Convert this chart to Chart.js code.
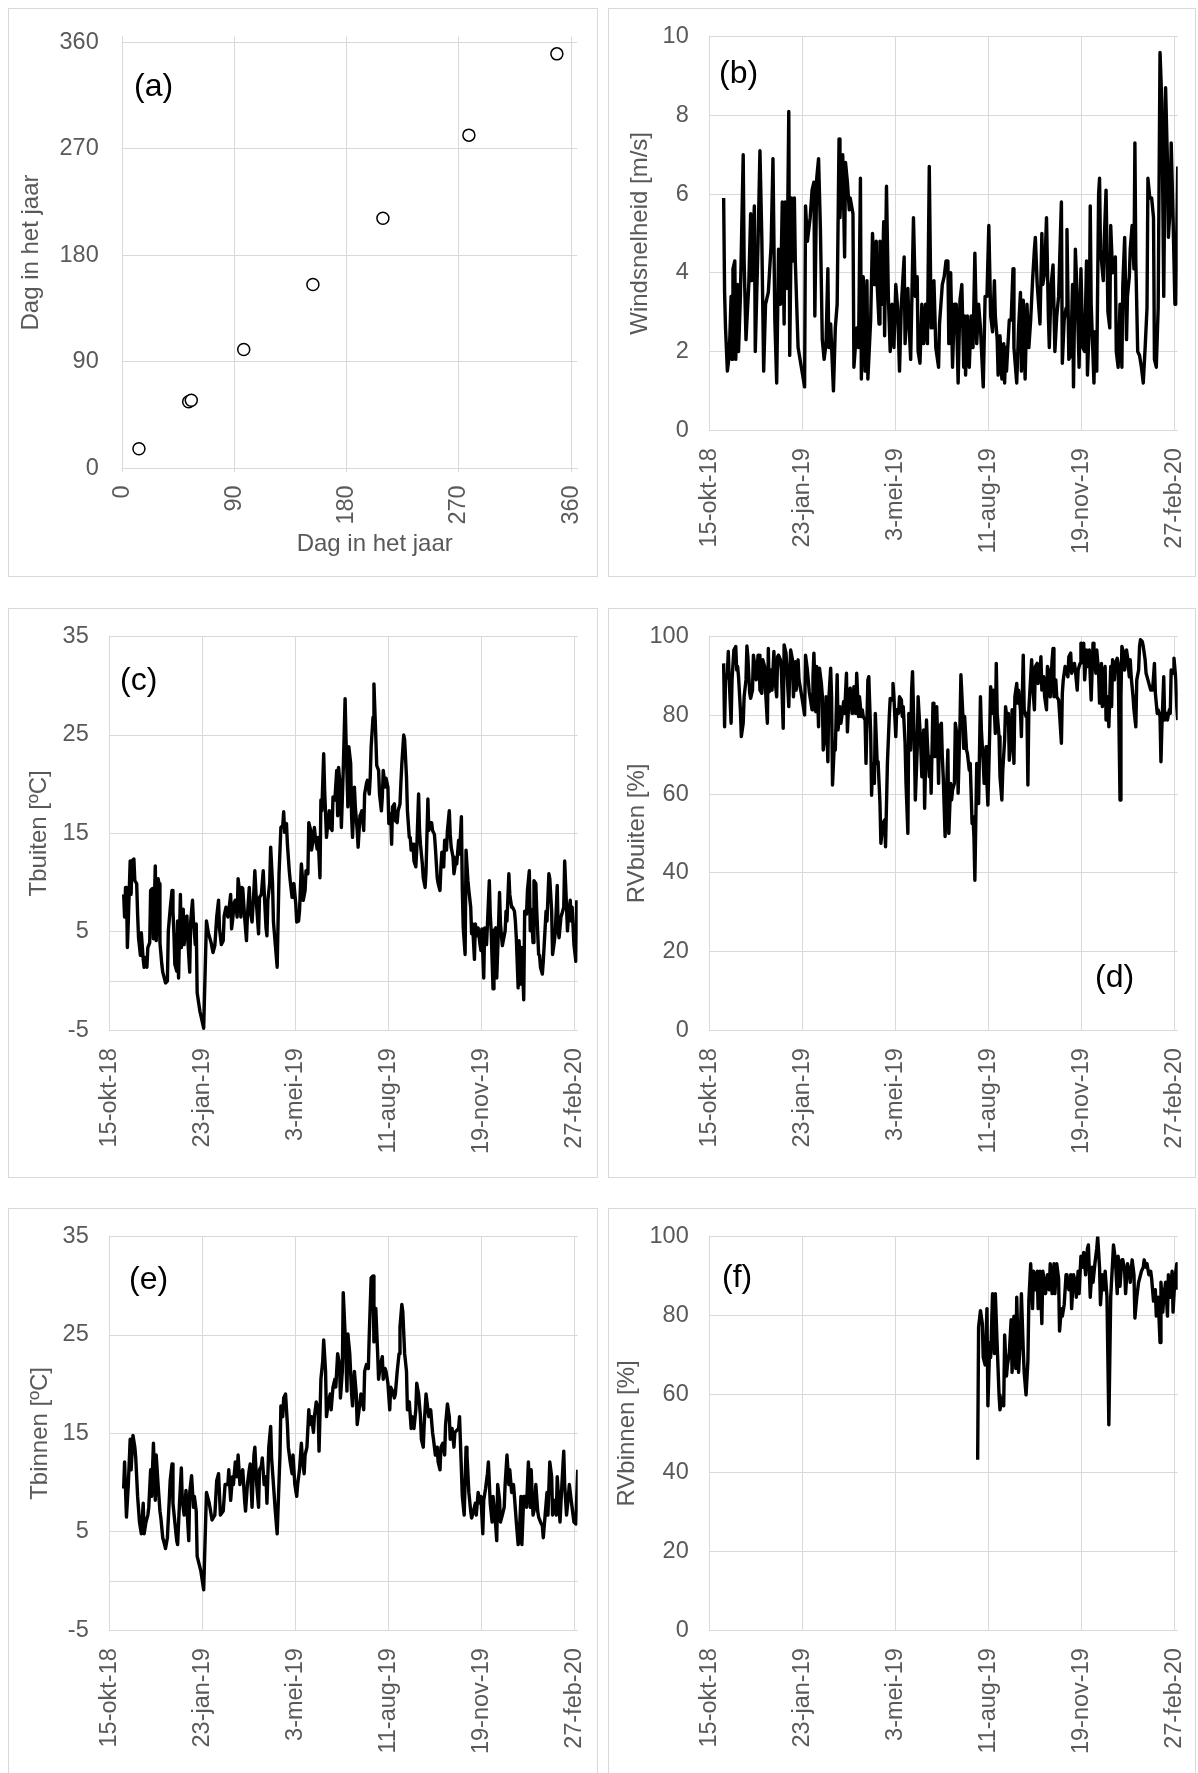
<!DOCTYPE html>
<html>
<head>
<meta charset="utf-8">
<title>Meetreeks buiten en binnen</title>
<script src="https://cdn.jsdelivr.net/npm/chart.js@4.4.1/dist/chart.umd.min.js"></script>
<style>
  html, body { margin: 0; padding: 0; background: #fff; }
  body { position: relative; width: 1198px; height: 1773px; overflow: hidden;
         font-family: 'Liberation Sans', Arial, sans-serif; }
  .panel { position: absolute; box-sizing: border-box; border: 1px solid #d9d9d9; }
  .panel canvas { position: absolute; left: -1px; top: -1px; }
  .tag { position: absolute; font-size: 32px; line-height: 32px; color: #000; white-space: nowrap; }
</style>
</head>
<body>
<div class="panel" style="left:8px;top:8px;width:590px;height:569px"><canvas id="chartA" width="590" height="569"></canvas></div>
<div class="panel" style="left:608px;top:8px;width:588px;height:569px"><canvas id="chartB" width="588" height="569"></canvas></div>
<div class="panel" style="left:8px;top:608px;width:590px;height:570px"><canvas id="chartC" width="590" height="570"></canvas></div>
<div class="panel" style="left:608px;top:608px;width:588px;height:570px"><canvas id="chartD" width="588" height="570"></canvas></div>
<div class="panel" style="left:8px;top:1208px;width:590px;height:570px"><canvas id="chartE" width="590" height="570"></canvas></div>
<div class="panel" style="left:608px;top:1208px;width:588px;height:570px"><canvas id="chartF" width="588" height="570"></canvas></div>

<div class="tag" style="left:134px;top:69px">(a)</div>
<div class="tag" style="left:719px;top:56px">(b)</div>
<div class="tag" style="left:120px;top:663px">(c)</div>
<div class="tag" style="left:1095px;top:960px">(d)</div>
<div class="tag" style="left:129px;top:1262px">(e)</div>
<div class="tag" style="left:722px;top:1260px">(f)</div>

<script>
// ── (a) dag in het jaar ──
const doyTicks = [0, 90, 180, 270, 360];
const doyX = [13.2, 53.1, 55.2, 97.3, 152.8, 209, 278, 348.6];
const doyY = [16.6, 56.3, 57.6, 100.5, 155.5, 211.5, 281.7, 350.4];

// ── time axis: days since 15-okt-18 ──
const dayTicks = [0, 100, 200, 300, 400, 500];
const dateLabels = ['15-okt-18', '23-jan-19', '3-mei-19', '11-aug-19', '19-nov-19', '27-feb-20'];

// ── (b) windsnelheid [m/s] ──
const windDays = [15,16,17,19,21,23,24,25,27,28,30,31,33,36,37,39,42,44,45,48,
  49,52,54,56,58,60,63,66,68,70,72,74,76,78,80,81,83,85,86,88,
  90,91,92,95,102,103,105,108,110,112,113,115,117,119,121,123,125,127,128,130,
  133,135,137,139,140,142,143,145,146,148,150,151,154,155,158,160,162,163,165,167,
  169,170,173,175,177,179,180,182,183,185,187,188,190,192,194,196,198,200,202,204,
  206,209,210,213,214,216,219,221,223,224,226,228,230,232,234,236,238,239,241,243,
  246,247,250,252,254,256,257,259,261,263,265,267,269,271,273,274,275,277,279,281,
  283,285,287,289,291,294,296,298,300,302,304,306,307,309,310,312,314,316,317,318,
  319,322,324,326,327,330,332,334,335,337,339,341,343,345,347,349,350,352,355,357,
  358,360,362,364,365,367,369,371,373,375,378,379,381,383,384,386,388,390,391,393,
  395,397,399,401,403,405,406,408,409,410,413,414,416,418,419,420,423,424,426,428,
  430,431,433,436,437,439,441,443,444,446,448,449,451,452,454,456,457,458,460,462,
  464,466,468,470,471,473,475,477,478,480,482,484,486,488,490,492,493,495,496,498,
  500,501,503];
const windSpeed = [5.9,3.5,2.6,1.5,1.9,3.4,1.8,4.1,4.3,1.8,3.7,2.0,3.4,7.0,4.3,2.3,3.7,5.5,3.8,5.7,
  2.0,4.8,7.1,4.9,1.5,3.2,3.5,4.7,6.9,2.8,1.2,4.6,3.2,5.8,2.7,5.8,3.6,8.1,1.9,5.9,
  4.3,5.9,4.3,2.1,1.1,5.7,4.8,5.4,6.1,6.3,2.9,6.4,6.9,5.1,2.3,1.8,2.2,4.1,2.1,2.7,
  1.0,2.6,3.2,7.4,5.4,6.6,7.0,4.4,6.8,6.3,5.6,5.9,5.5,1.6,2.6,2.1,6.4,1.3,3.9,1.5,
  3.8,1.3,2.8,5.0,3.7,4.8,3.7,2.7,4.8,3.2,5.3,2.4,6.2,3.4,2.0,3.2,2.1,3.7,3.1,1.5,
  3.2,4.4,2.2,3.6,2.8,1.8,5.4,3.4,3.9,2.0,1.7,3.2,2.2,3.2,2.2,6.7,2.6,2.6,3.8,2.1,
  1.6,2.7,3.7,3.9,4.3,4.3,2.2,4.0,1.6,3.2,3.2,1.2,3.3,3.7,1.6,2.9,1.4,2.9,1.6,2.9,
  2.1,4.5,2.2,3.2,2.6,1.1,3.4,3.4,5.2,2.9,2.5,3.8,2.9,2.3,1.4,2.4,1.3,2.2,1.2,2.1,
  1.5,2.8,2.8,4.1,2.1,1.2,2.6,3.5,1.5,3.3,1.3,3.2,2.1,2.8,3.8,4.6,4.9,3.7,2.7,5.0,
  3.7,4.0,5.4,2.9,2.1,3.7,4.2,2.0,2.9,3.4,5.8,1.7,2.8,3.1,5.1,1.8,1.9,3.7,1.1,4.6,
  3.4,1.6,4.1,2.1,2.0,4.3,1.4,2.7,5.7,3.2,1.2,2.5,1.5,6.0,6.4,4.6,3.8,4.8,6.1,3.0,
  2.6,5.2,4.0,4.4,2.0,1.6,3.2,1.6,3.7,4.9,2.3,3.4,3.9,4.6,5.2,4.1,7.3,4.3,2.0,1.9,
  1.6,1.2,2.1,3.1,6.4,5.9,5.9,5.4,1.8,1.6,3.1,9.6,8.3,3.4,8.7,6.8,4.9,5.7,7.3,5.4,
  3.2,3.2,6.7];

// ── (c) Tbuiten [°C] ──
const tOutDays = [15,16,17,18,19,20,22,23,24,26,27,29,30,31,33,34,36,37,38,40,
  41,43,44,46,47,49,50,52,53,54,56,57,59,60,62,63,65,67,68,69,
  70,72,73,74,76,77,79,80,82,83,84,86,87,89,90,92,93,94,97,101,
  104,106,109,111,113,115,117,118,120,122,123,125,127,128,130,131,132,134,135,137,
  138,140,141,142,143,145,147,148,150,151,153,155,156,158,160,161,163,165,166,168,
  169,170,172,173,175,176,178,180,182,184,186,187,188,190,191,193,194,196,197,198,
  200,201,203,204,206,207,208,210,211,213,214,216,217,219,220,221,223,224,226,227,
  228,230,231,233,234,236,237,239,240,242,244,245,246,248,249,251,253,254,256,257,
  259,260,261,263,264,266,267,269,270,271,273,274,276,277,279,280,281,283,284,286,
  287,289,290,292,293,294,296,297,299,300,302,303,304,306,307,309,310,312,313,314,
  316,317,319,320,322,323,324,326,327,329,330,332,333,334,336,337,339,340,342,343,
  345,346,347,349,350,352,353,355,356,357,359,360,362,363,365,366,367,369,370,372,
  373,375,376,378,379,380,382,383,385,386,388,389,390,392,393,395,396,398,399,400,
  402,403,405,406,408,409,410,412,413,415,416,418,419,420,422,423,425,426,427,429,
  430,432,433,435,436,437,439,440,442,443,445,446,448,449,451,452,453,455,456,458,
  459,461,462,463,465,466,467,469,470,472,473,475,476,478,479,481,482,483,485,486,
  488,489,490,492,493,495,496,497,499,501,502];
const tOut = [8.8,6.5,9.5,9.5,3.4,6.1,12.2,8.8,12.2,12.4,10.2,9.9,6.8,4.4,2.6,4.9,2.2,1.4,2.4,1.4,
  3.4,3.9,9.2,9.4,4.3,11.7,4.1,10.4,9.9,3.9,1.7,0.9,0.2,-0.2,0.0,5.1,7.3,9.2,7.1,4.9,
  1.7,1.0,6.1,0.3,8.8,3.4,7.3,3.7,6.5,6.6,4.1,0.9,6.0,8.2,6.1,3.7,5.8,-1.2,-3.1,-4.8,
  6.1,4.9,3.9,2.9,3.6,6.5,8.2,5.3,3.7,4.1,6.6,7.5,6.5,7.1,8.8,5.3,6.1,8.0,8.2,6.5,
  10.4,8.8,6.5,9.5,9.4,6.5,4.1,6.6,9.5,7.1,6.0,9.2,11.2,7.5,4.8,8.5,8.8,11.2,9.2,5.4,
  4.6,8.2,10.0,13.6,9.9,6.0,3.7,1.4,10.9,15.6,15.8,17.2,15.1,16.0,13.9,11.2,10.2,8.5,9.2,9.9,
  7.8,6.0,6.1,7.1,11.9,10.7,8.2,9.2,11.2,10.9,16.1,15.3,13.3,14.6,15.6,14.6,13.4,14.6,10.5,18.4,
  17.3,23.1,19.4,14.6,15.6,17.3,15.6,15.3,18.7,18.4,21.4,16.8,21.7,19.4,15.6,21.4,28.7,24.5,17.7,23.8,
  22.1,16.7,14.6,19.7,17.7,15.3,13.6,16.8,17.0,17.3,15.3,19.0,20.1,20.4,19.0,20.7,23.8,26.8,30.2,24.8,
  21.9,21.4,19.0,17.3,18.7,21.4,19.7,20.6,19.7,16.0,17.0,13.9,17.7,18.0,16.3,16.1,17.3,18.0,20.2,22.1,
  25.0,24.5,20.7,17.3,14.6,14.6,13.3,13.9,12.2,11.6,13.3,19.0,15.3,13.9,11.9,10.5,9.5,11.2,18.5,15.3,
  16.1,16.1,15.3,14.9,13.6,10.5,9.9,9.2,11.6,13.1,11.6,14.3,13.3,15.3,17.3,14.9,13.6,12.6,10.9,12.2,
  11.9,14.3,12.9,16.7,9.2,5.4,2.7,13.3,10.2,9.2,7.5,4.8,5.8,2.2,5.8,4.6,5.4,3.7,3.1,5.3,
  0.3,5.4,3.7,5.8,10.2,6.8,5.1,-0.8,5.1,5.4,0.3,5.8,9.0,5.8,3.6,4.1,5.1,7.1,6.1,10.9,
  8.8,7.5,7.5,7.1,6.1,4.4,-0.7,4.1,-0.3,3.4,-1.9,7.1,6.8,9.2,11.2,5.1,7.3,3.9,10.2,9.9,
  7.1,2.7,2.6,1.4,0.7,2.0,3.7,7.1,6.1,10.9,10.4,7.1,2.7,4.1,5.1,9.7,5.1,4.4,6.5,6.8,
  7.5,12.2,9.9,5.1,6.5,8.2,6.1,7.5,3.7,2.0,8.2];

// ── (d) RVbuiten [%] ──
const rhOutDays = [15,16,17,19,20,21,23,24,25,26,28,29,30,31,33,34,36,37,39,40,
  41,43,44,46,47,49,50,52,53,54,56,57,59,60,62,63,64,66,67,69,
  70,72,73,74,76,77,79,80,82,83,85,86,87,89,90,92,93,95,96,99,
  102,103,105,107,110,111,112,114,115,117,118,120,121,122,124,125,127,128,130,131,
  132,134,135,137,138,140,141,143,144,145,147,148,150,151,153,154,155,157,158,160,
  161,163,164,165,167,168,170,171,173,174,175,177,178,180,181,183,184,186,188,189,
  191,193,194,196,197,198,200,201,203,204,206,207,208,210,211,213,214,216,217,218,
  220,221,223,224,226,227,228,230,231,233,234,236,237,238,240,241,
  242,244,245,246,247,249,250,251,253,254,256,257,259,260,261,263,264,266,267,269,
  270,272,273,274,276,277,279,280,282,283,284,285,287,288,289,291,292,294,295,297,
  298,299,301,302,304,305,307,308,309,311,312,314,315,317,318,320,321,322,324,325,
  327,328,330,331,332,334,335,337,338,340,341,342,343,345,346,347,349,350,352,353,
  355,356,357,359,360,362,363,365,366,368,369,370,372,373,375,376,378,379,380,382,
  383,385,386,388,389,390,392,393,395,396,398,399,400,402,403,405,406,408,409,410,
  412,413,415,416,418,419,421,422,423,425,426,428,429,431,432,433,435,436,438,439,
  441,442,443,445,446,448,449,451,452,453,455,456,458,459,461,462,463,465,466,468,
  469,471,472,474,475,476,478,479,481,482,484,485,486,488,489,491,492,494,495,496,
  498,499,501,502,503];
const rhOut = [93.2,77.1,89.0,90.7,96.2,89.0,78.0,89.0,89.0,96.6,97.5,91.5,92.4,89.8,81.4,74.6,78.0,84.7,89.0,97.6,
  94.9,85.6,84.3,86.4,95.3,91.5,89.0,95.3,95.3,86.4,85.6,94.1,92.4,86.4,78.0,97.0,86.0,91.5,86.4,96.2,
  89.4,84.7,94.9,95.3,94.1,91.5,76.7,97.9,95.8,91.5,82.2,90.7,96.6,94.1,84.7,93.6,86.4,94.1,89.0,84.7,
  80.1,95.3,91.5,86.0,81.4,89.8,95.8,80.9,92.4,77.1,92.0,88.1,85.2,71.2,75.0,84.7,68.2,83.9,92.0,84.7,
  62.3,72.9,71.2,90.3,76.3,82.2,78.0,81.4,83.5,80.5,90.7,75.8,86.4,86.9,80.5,83.1,87.3,80.5,90.7,79.7,
  84.7,79.7,81.4,79.7,78.8,67.8,89.0,89.8,75.4,59.7,67.8,62.7,80.5,67.8,68.2,57.6,47.5,52.5,53.4,46.6,
  67.8,79.7,84.3,83.9,88.1,84.7,74.6,81.4,80.5,84.7,83.9,79.7,82.2,72.9,62.7,50.0,80.5,71.2,86.4,91.1,
  72.0,58.5,71.2,84.7,76.3,71.2,64.4,76.3,56.4,78.8,72.9,64.4,69.5,60.2,83.1,82.2,
  69.5,82.2,73.7,62.7,77.1,78.0,69.5,64.4,49.2,56.8,71.2,50.0,62.7,58.5,61.0,62.7,78.0,74.6,60.2,78.0,
  90.3,80.5,71.6,79.7,71.2,70.3,66.1,67.8,52.5,54.2,49.2,38.1,67.8,61.0,57.6,84.7,76.3,67.8,62.7,72.0,
  62.7,57.2,76.3,87.3,80.5,86.4,75.4,93.2,80.5,74.6,64.4,58.5,66.1,73.7,82.2,78.0,80.5,68.6,73.7,81.4,
  67.8,84.7,88.1,83.1,86.4,81.4,74.6,95.3,81.4,79.7,80.5,62.3,81.4,89.8,94.1,88.1,81.4,92.4,93.2,88.1,
  90.7,94.9,86.4,89.8,84.7,81.4,92.4,90.7,84.7,94.1,97.0,84.7,89.0,84.7,83.9,80.5,72.9,85.6,89.0,92.4,
  91.5,89.8,94.9,95.8,90.7,91.5,93.2,91.5,86.4,91.5,93.2,98.3,96.6,98.3,89.0,96.6,92.4,96.6,89.8,83.9,
  98.3,95.8,90.7,96.6,90.7,83.1,93.2,82.2,89.0,92.4,78.8,84.7,77.1,92.4,82.2,94.1,89.0,93.2,94.5,93.2,
  58.5,84.7,97.5,95.8,91.5,96.6,94.9,89.8,94.1,89.8,84.7,81.4,77.1,89.0,91.5,97.5,99.2,98.7,97.5,94.1,
  90.7,89.0,88.1,86.4,87.3,86.4,93.2,85.6,80.5,81.4,79.7,68.2,77.1,89.8,78.8,80.5,78.8,81.4,80.5,91.5,
  90.7,94.5,89.0,82.2,78.8];

// ── (e) Tbinnen [°C] ──
const tInDays = [15,16,18,20,22,23,25,27,28,30,32,34,36,37,39,41,42,44,45,47,
  49,50,52,54,55,57,59,60,62,64,65,67,68,70,72,73,75,77,78,80,
  82,83,85,86,88,90,91,93,94,98,101,104,107,110,113,115,117,119,122,124,
  127,128,130,132,133,135,137,138,140,141,143,145,146,148,150,151,153,155,156,158,
  160,161,163,164,166,168,169,171,173,174,176,178,180,183,184,186,187,189,191,192,
  194,196,197,199,201,202,204,206,207,209,210,212,214,215,217,219,220,222,224,225,
  227,229,230,232,233,235,237,238,240,242,243,245,247,248,250,251,253,255,256,258,
  260,261,263,265,266,268,270,271,273,274,276,278,279,281,283,284,286,288,289,291,
  293,294,296,297,299,301,302,304,306,307,309,311,312,314,315,317,319,320,322,324,
  325,327,329,330,332,334,335,337,338,340,342,343,345,347,348,350,352,353,355,356,
  358,360,361,363,365,366,368,370,371,373,375,376,378,379,381,383,384,386,388,389,
  391,393,394,396,398,399,401,402,404,406,407,409,411,412,414,416,417,419,420,422,
  424,425,427,429,430,432,434,435,437,439,440,442,443,445,447,448,450,452,453,455,
  457,458,460,461,463,465,466,468,470,471,473,475,476,478,480,481,483,484,486,488,
  489,491,493,494,496,498,499,501,503];
const tIn = [9.4,12.1,6.5,9.8,14.4,11.3,14.8,13.6,12.5,8.6,6.0,4.8,7.9,4.8,6.0,6.7,7.5,11.3,8.6,14.0,
  8.2,12.8,9.8,7.1,6.4,4.4,3.7,3.3,4.4,8.2,10.2,11.9,7.9,6.0,4.1,3.7,7.9,11.5,8.2,6.7,
  9.2,7.5,4.1,9.0,10.7,7.5,8.6,7.1,2.5,1.0,-0.9,9.0,7.9,6.2,6.7,10.2,10.9,6.7,7.1,9.8,
  9.8,11.3,8.2,10.6,9.8,12.1,10.6,12.8,9.8,10.6,11.3,8.2,7.1,9.8,11.3,11.9,7.5,12.8,13.6,9.8,
  7.5,11.3,11.7,12.5,9.8,10.6,7.9,13.6,15.7,12.5,9.8,7.1,4.8,12.8,17.8,16.7,18.6,19.0,15.9,13.6,
  12.1,10.9,12.8,9.8,8.6,9.8,11.3,14.0,12.5,10.9,12.8,13.6,17.4,15.9,16.7,15.1,16.7,18.2,17.4,13.2,
  20.5,22.4,24.5,21.3,16.7,18.2,19.0,17.4,19.7,20.5,19.7,23.1,22.0,18.6,21.3,29.3,25.1,19.3,25.1,23.1,
  19.0,17.8,21.3,19.0,15.9,17.4,19.0,18.6,17.4,21.3,22.0,21.6,25.1,30.8,31.0,24.3,27.7,23.1,20.5,22.0,
  22.8,20.5,21.6,21.3,20.1,17.4,19.7,19.3,18.6,19.0,21.3,23.1,25.8,28.1,27.4,23.1,21.3,17.4,18.2,15.5,
  16.7,15.5,17.4,20.1,19.0,16.7,14.4,13.6,15.9,19.0,17.4,16.7,17.4,15.1,14.4,12.8,13.6,12.1,11.3,13.6,
  14.0,12.8,15.9,18.0,16.7,14.4,15.5,13.6,15.1,15.3,15.5,16.7,11.3,8.6,6.7,13.6,12.8,9.0,7.1,6.4,
  7.1,7.9,6.7,9.0,7.9,8.6,4.8,8.2,9.4,10.9,12.1,7.9,6.0,8.6,6.7,4.1,9.8,8.2,6.0,6.7,
  7.5,9.8,12.8,9.8,11.3,9.0,9.8,8.6,6.0,3.7,4.1,8.6,3.7,8.6,8.6,7.5,12.1,7.5,11.3,6.7,
  7.5,9.8,7.1,6.5,6.0,5.6,4.4,6.7,9.0,6.7,12.1,10.6,6.7,8.2,6.7,10.6,7.5,6.0,9.8,13.2,
  9.8,6.7,8.6,9.8,8.2,6.7,6.0,5.8,11.3];

// ── (f) RVbinnen [%] ──
const rhInDays = [288,289,291,293,294,296,298,299,301,302,304,306,307,309,311,312,314,316,317,319,
  320,322,324,325,327,329,330,332,334,335,337,338,340,342,343,345,347,348,350,352,
  353,355,357,358,360,361,363,365,366,368,370,371,373,375,376,378,379,381,383,384,
  386,388,389,391,393,394,396,397,399,401,402,404,406,407,409,411,412,414,416,417,
  419,420,422,424,425,427,429,431,434,436,438,439,441,443,444,446,447,449,451,452,
  454,456,457,459,461,462,464,466,467,469,470,472,474,475,477,479,480,482,484,485,
  487,488,490,492,493,495,497,498,500,502,503];
const rhIn = [43.3,77.0,81.2,77.9,69.3,67.4,81.7,57.0,73.1,69.3,85.5,70.3,85.5,72.2,59.8,56.0,58.9,57.0,75.0,64.6,
  67.4,70.3,78.9,65.5,79.8,66.5,84.6,65.5,75.0,85.5,71.2,65.5,59.8,68.4,83.6,93.1,81.7,91.2,86.5,91.2,
  81.7,91.2,77.9,91.2,88.4,85.5,90.3,86.5,93.1,85.5,93.1,85.5,93.1,89.3,76.0,81.7,79.8,82.7,90.3,89.3,
  86.5,90.3,81.7,90.3,88.4,84.6,91.2,85.5,95.0,92.2,96.0,90.3,97.0,97.9,84.6,92.2,88.4,93.1,97.0,100.0,
  92.2,82.7,90.3,86.5,91.2,84.6,52.2,84.6,97.9,94.1,85.5,95.0,87.4,94.1,94.1,91.2,85.5,93.1,91.2,88.4,
  94.1,90.3,79.3,84.6,88.4,89.3,91.2,92.2,94.1,92.2,93.1,90.3,91.2,89.3,83.6,86.5,79.8,84.6,73.1,88.4,
  80.8,84.6,88.4,79.8,90.3,84.6,91.2,80.8,89.3,93.1,86.5];

const tempTicks = [-5, 5, 15, 25, 35];
const windTicks = [0, 2, 4, 6, 8, 10];
const rhTicks = [0, 20, 40, 60, 80, 100];

const GRID = '#d9d9d9';
const TEXT = '#595959';
const PLOT_LEFT = 101.7, PLOT_W = 468, PLOT_TOP = 28.6, PLOT_BOTTOM = 422.2;

Chart.defaults.font.family = "'Liberation Sans', Arial, sans-serif";
Chart.defaults.color = TEXT;

function toPoints(xs, ys) {
  return xs.map((x, i) => ({ x: x, y: ys[i] }));
}

function fixTicks(values) {
  return scale => { scale.ticks = values.map(v => ({ value: v })); };
}

// Excel puts the horizontal axis line at 0 for the temperature panels
const zeroLine = {
  id: 'zeroLine',
  beforeDatasetsDraw(chart) {
    const { ctx, chartArea, scales } = chart;
    const py = Math.round(scales.y.getPixelForValue(0)) + 0.5;
    ctx.save();
    ctx.strokeStyle = GRID;
    ctx.lineWidth = 1;
    ctx.beginPath();
    ctx.moveTo(chartArea.left, py);
    ctx.lineTo(chartArea.right, py);
    ctx.stroke();
    ctx.restore();
  }
};

// free-standing axis caption (x title of panel a sits off-centre)
const caption = {
  id: 'caption',
  afterDraw(chart, args, opts) {
    if (!opts.text) return;
    const ctx = chart.ctx;
    ctx.save();
    ctx.font = opts.size + "px 'Liberation Sans', Arial, sans-serif";
    ctx.fillStyle = TEXT;
    ctx.textAlign = 'center';
    ctx.textBaseline = 'middle';
    ctx.fillText(opts.text, opts.x, opts.y);
    ctx.restore();
  }
};

function timeChart(id, days, values, yTicks, yTitle, titlePad, withZero) {
  const canvas = document.getElementById(id);
  const W = canvas.width, H = canvas.height;
  return new Chart(canvas, {
    type: 'line',
    data: {
      datasets: [{
        data: toPoints(days, values),
        borderColor: '#000',
        borderWidth: 3.4,
        pointRadius: 0,
        pointHoverRadius: 0,
        tension: 0,
        fill: false,
        borderJoinStyle: 'round'
      }]
    },
    options: {
      responsive: false,
      animation: false,
      devicePixelRatio: 1,
      events: [],
      layout: { padding: { left: 0, top: PLOT_TOP, right: W - PLOT_LEFT - PLOT_W, bottom: 0 } },
      plugins: { legend: { display: false }, tooltip: { enabled: false } },
      scales: {
        x: {
          type: 'linear', min: 0, max: 503,
          afterBuildTicks: fixTicks(dayTicks),
          afterFit: s => { s.height = H - PLOT_BOTTOM; s.paddingLeft = 0; s.paddingRight = 0; },
          grid: { color: GRID, lineWidth: 1, drawTicks: false },
          border: { color: GRID },
          ticks: {
            autoSkip: false, minRotation: 90, maxRotation: 90, padding: 18,
            font: { size: 23.5 }, color: TEXT,
            callback: (v, i) => dateLabels[i]
          }
        },
        y: {
          min: yTicks[0], max: yTicks[yTicks.length - 1],
          afterBuildTicks: fixTicks(yTicks),
          afterFit: s => { s.width = PLOT_LEFT; s.paddingTop = 0; s.paddingBottom = 0; },
          grid: { color: GRID, lineWidth: 1, drawTicks: false },
          border: { color: GRID },
          ticks: { padding: 21, font: { size: 23.5 }, color: TEXT },
          title: { display: true, text: yTitle, font: { size: 24 }, color: TEXT, padding: { top: titlePad, bottom: 0 } }
        }
      }
    },
    plugins: withZero ? [zeroLine] : []
  });
}

// ── (a) scatter ──
new Chart(document.getElementById('chartA'), {
  type: 'scatter',
  data: {
    datasets: [{
      data: toPoints(doyX, doyY),
      pointRadius: 6,
      pointBorderWidth: 1.5,
      pointBorderColor: '#000',
      pointBackgroundColor: '#fff'
    }]
  },
  options: {
    responsive: false,
    animation: false,
    devicePixelRatio: 1,
    events: [],
    layout: { padding: { left: 0, top: 28.6, right: 20.7, bottom: 0 } },
    plugins: {
      legend: { display: false },
      tooltip: { enabled: false },
      caption: { text: 'Dag in het jaar', x: 366.7, y: 536.1, size: 24 }
    },
    scales: {
      x: {
        type: 'linear', min: 0, max: 365,
        afterBuildTicks: fixTicks(doyTicks),
        afterFit: s => { s.height = 569 - 460.4; s.paddingLeft = 0; s.paddingRight = 0; },
        grid: { color: GRID, lineWidth: 1, drawTicks: true, tickLength: 4 },
        border: { color: GRID },
        ticks: { autoSkip: false, minRotation: 90, maxRotation: 90, padding: 13, font: { size: 23.5 }, color: TEXT }
      },
      y: {
        min: 0, max: 365,
        afterBuildTicks: fixTicks(doyTicks),
        afterFit: s => { s.width = 114.5; s.paddingTop = 0; s.paddingBottom = 0; },
        grid: { color: GRID, lineWidth: 1, drawTicks: false },
        border: { color: GRID },
        ticks: { padding: 23.8, font: { size: 23.5 }, color: TEXT },
        title: { display: true, text: 'Dag in het jaar', font: { size: 24 }, color: TEXT, padding: { top: 9.4, bottom: 0 } }
      }
    }
  },
  plugins: [caption]
});

timeChart('chartB', windDays, windSpeed, windTicks, 'Windsnelheid [m/s]', 18.1, false);
timeChart('chartC', tOutDays, tOut, tempTicks, 'Tbuiten [\u00baC]', 17.1, true);
timeChart('chartD', rhOutDays, rhOut, rhTicks, 'RVbuiten [%]', 15.4, false);
timeChart('chartE', tInDays, tIn, tempTicks, 'Tbinnen [\u00baC]', 17.5, true);
timeChart('chartF', rhInDays, rhIn, rhTicks, 'RVbinnen [%]', 5, false);
</script>
</body>
</html>
